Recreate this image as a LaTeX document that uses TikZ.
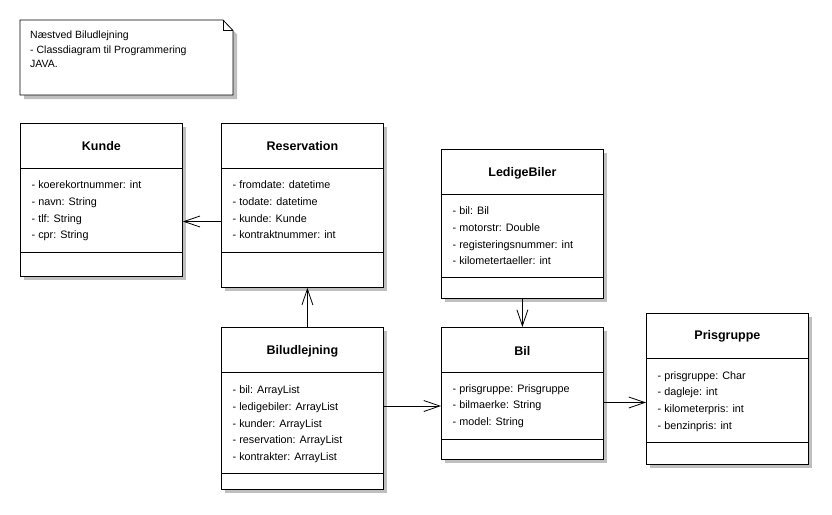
\documentclass[tikz,border=0pt]{standalone}
\usepackage{fontspec}
\setmainfont{Liberation Sans}
\usetikzlibrary{calc,shadows,arrows.meta}

\tikzset{
 classbox/.style={draw,fill=white,line width=0.8pt,anchor=north west,inner sep=0pt,
  minimum width=162pt,drop shadow={shadow xshift=4pt,shadow yshift=-4pt,fill=black!25,opacity=1}},
 classname/.style={font=\fontsize{12.5}{15}\selectfont\bfseries},
 attrlist/.style={font=\fontsize{10.8}{16.8}\selectfont,align=left,anchor=north west,inner sep=0pt},
 assoc/.style={-{Straight Barb[length=16pt,width=11pt]},line width=0.8pt}
}

\begin{document}
\begin{tikzpicture}[x=1pt,y=-1pt]
\useasboundingbox (0,0) rectangle (832,514);

%note in the corner
\filldraw[fill=white,line width=0.8pt,drop shadow={shadow xshift=4pt,shadow yshift=-4pt,fill=black!25,opacity=1}]
 (20,20) -- (223,20) -- (233,30.5) -- (233,95) -- (20,95) -- cycle;
\draw[line width=0.8pt] (223,20) -- ++(0,10.5) -- ++(10,0);
\node[attrlist,font=\fontsize{10.5}{14.2}\selectfont] (note) at (30,31)
 {Næstved Biludlejning\\- Classdiagram til Programmering\\JAVA.};

%Kunde
\node[classbox,minimum height=153pt] (kunde) at (20,123) {};
\node[classname] (kundename) at ($(kunde.north)+(0,23)$) {Kunde};
\draw[line width=0.8pt] (kunde.north west) ++(0,45) -- ++(162,0);
\draw[line width=0.8pt] (kunde.north west) ++(0,129) -- ++(162,0);
\node[attrlist] (kundeattr) at ($(kunde.north west)+(11.5,57.5)$)
 {- koerekortnummer: int\\- navn: String\\- tlf: String\\- cpr: String};

%Reservation
\node[classbox,minimum height=164pt] (res) at (221,123) {};
\node[classname] (resname) at ($(res.north)+(0,23)$) {Reservation};
\draw[line width=0.8pt] (res.north west) ++(0,45) -- ++(162,0);
\draw[line width=0.8pt] (res.north west) ++(0,129) -- ++(162,0);
\node[attrlist] (resattr) at ($(res.north west)+(11.5,57.5)$)
 {- fromdate: datetime\\- todate: datetime\\- kunde: Kunde\\- kontraktnummer: int};

%LedigeBiler
\node[classbox,minimum height=149pt] (ledige) at (441,149) {};
\node[classname] (ledigename) at ($(ledige.north)+(0,24)$) {LedigeBiler};
\draw[line width=0.8pt] (ledige.north west) ++(0,45) -- ++(162,0);
\draw[line width=0.8pt] (ledige.north west) ++(0,128.5) -- ++(162,0);
\node[attrlist] (ledigeattr) at ($(ledige.north west)+(11.5,57.5)$)
 {- bil: Bil\\- motorstr: Double\\- registeringsnummer: int\\- kilometertaeller: int};

%Biludlejning
\node[classbox,minimum height=162pt] (udl) at (221,327) {};
\node[classname] (udlname) at ($(udl.north)+(0,24)$) {Biludlejning};
\draw[line width=0.8pt] (udl.north west) ++(0,45) -- ++(162,0);
\draw[line width=0.8pt] (udl.north west) ++(0,146) -- ++(162,0);
\node[attrlist] (udlattr) at ($(udl.north west)+(11.5,58.5)$)
 {- bil: ArrayList\\- ledigebiler: ArrayList\\- kunder: ArrayList\\- reservation: ArrayList\\- kontrakter: ArrayList};

%Bil
\node[classbox,minimum height=132pt] (bil) at (441,327) {};
\node[classname] (bilname) at ($(bil.north)+(0,24)$) {Bil};
\draw[line width=0.8pt] (bil.north west) ++(0,45) -- ++(162,0);
\draw[line width=0.8pt] (bil.north west) ++(0,112) -- ++(162,0);
\node[attrlist] (bilattr) at ($(bil.north west)+(11.5,57)$)
 {- prisgruppe: Prisgruppe\\- bilmaerke: String\\- model: String};

%Prisgruppe
\node[classbox,minimum height=151pt] (pris) at (646,313) {};
\node[classname] (prisname) at ($(pris.north)+(0,23.5)$) {Prisgruppe};
\draw[line width=0.8pt] (pris.north west) ++(0,45.5) -- ++(162,0);
\draw[line width=0.8pt] (pris.north west) ++(0,129.5) -- ++(162,0);
\node[attrlist] (prisattr) at ($(pris.north west)+(11.5,58)$)
 {- prisgruppe: Char\\- dagleje: int\\- kilometerpris: int\\- benzinpris: int};

%associations
\coordinate (reskunde) at ($(res.north west)+(0,98.5)$);
\draw[assoc] (reskunde) -- (kunde.east |- reskunde);
\draw[assoc] ([xshift=5pt]udl.north) -- ([xshift=5pt]res.south);
\draw[assoc] (ledige.south) -- (bil.north);
\coordinate (udlbil) at ($(udl.north east)+(0,79)$);
\draw[assoc] (udlbil) -- (bil.west |- udlbil);
\coordinate (bilpris) at ($(bil.north east)+(0,75.5)$);
\draw[assoc] (bilpris) -- (pris.west |- bilpris);
\end{tikzpicture}
\end{document}
